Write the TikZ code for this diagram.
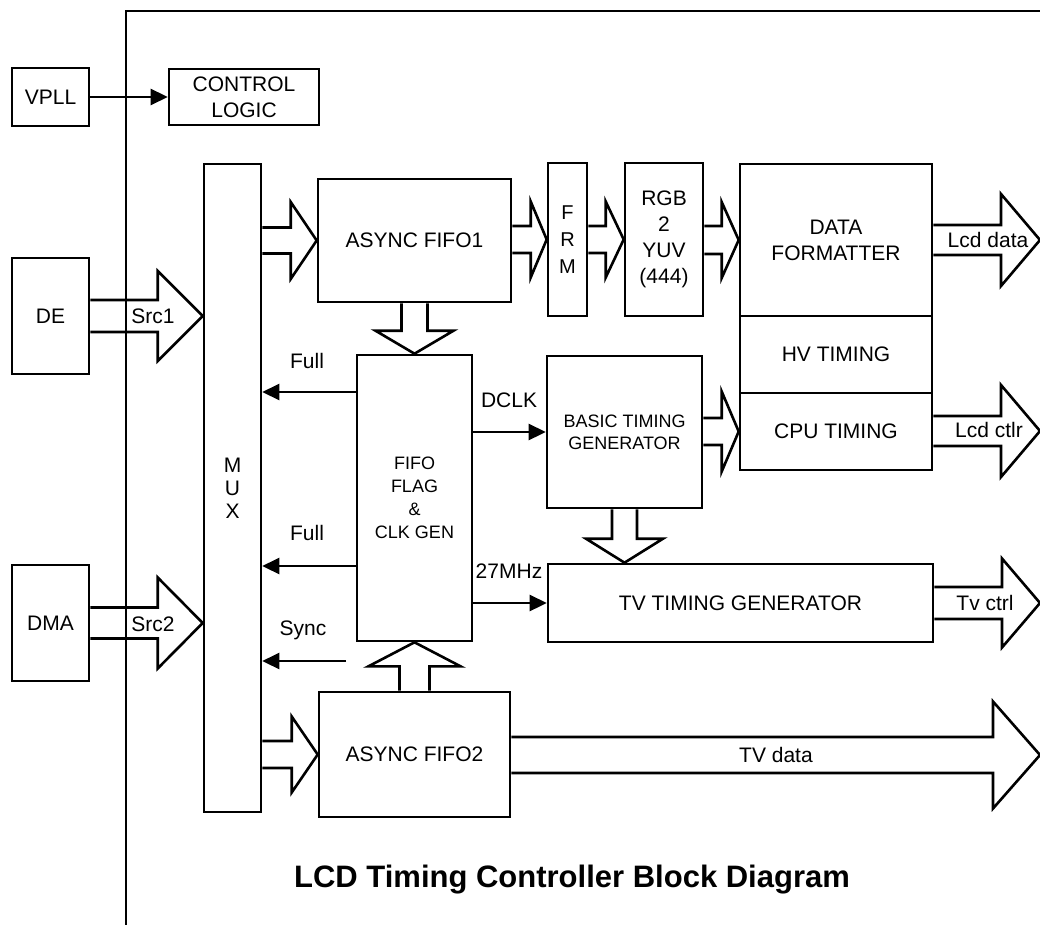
\documentclass[tikz,border=0pt]{standalone}
\usepackage{fontspec}
\setmainfont{Liberation Sans}
\usetikzlibrary{calc,arrows.meta}
\tikzset{
  blk/.style={draw, line width=2.6pt, inner sep=0pt, align=center, font=\fontsize{21}{26}\selectfont},
  fat/.style={line width=2.6pt, line join=miter},
  sig/.style={line width=2.6pt, -{Triangle[length=17pt,width=16pt]}},
  lbl/.style={font=\fontsize{21}{26}\selectfont, inner sep=0pt},
}
% horizontal fat arrow: start (x only), tip, half shaft, half head, head length
\newcommand{\fatR}[5]{\draw[fat] let \p1=(#1), \p2=(#2) in (\x1,\y2+#3) -- (\x2-#5,\y2+#3) -- (\x2-#5,\y2+#4) -- (\x2,\y2) -- (\x2-#5,\y2-#4) -- (\x2-#5,\y2-#3) -- (\x1,\y2-#3);}
% downward fat arrow
\newcommand{\fatD}[5]{\draw[fat] let \p1=(#1), \p2=(#2) in (\x2+#3,\y1) -- (\x2+#3,\y2+#5) -- (\x2+#4,\y2+#5) -- (\x2,\y2) -- (\x2-#4,\y2+#5) -- (\x2-#3,\y2+#5) -- (\x2-#3,\y1);}
% upward fat arrow
\newcommand{\fatU}[5]{\draw[fat] let \p1=(#1), \p2=(#2) in (\x2+#3,\y1) -- (\x2+#3,\y2-#5) -- (\x2+#4,\y2-#5) -- (\x2,\y2) -- (\x2-#4,\y2-#5) -- (\x2-#3,\y2-#5) -- (\x2-#3,\y1);}
\begin{document}
\begin{tikzpicture}[x=1pt,y=-1pt]
\useasboundingbox (0,0) rectangle (1040,925);
% outer frame
\draw[line width=2.2pt] (126,925) -- (126,11) -- (1040,11);

% blocks
\node[blk, minimum width=77pt, minimum height=58pt] (vpll) at (50.5,97) {VPLL};
\node[blk, minimum width=150pt, minimum height=56pt] (ctrl) at (244,97) {CONTROL\\LOGIC};
\node[blk, minimum width=77pt, minimum height=116pt] (de) at (50.5,316) {DE};
\node[blk, minimum width=77pt, minimum height=116pt] (dma) at (50.5,623) {DMA};
\node[blk, minimum width=57pt, minimum height=648pt, font=\fontsize{21}{23}\selectfont] (mux) at (232.5,488) {M\\U\\X};
\node[blk, minimum width=193pt, minimum height=123pt] (fifo1) at (414.5,240.5) {ASYNC FIFO1};
\node[blk, minimum width=39pt, minimum height=153pt, font=\fontsize{20}{27}\selectfont] (frm) at (567.5,239.5) {F\\R\\M};
\node[blk, minimum width=78pt, minimum height=153pt] (rgb) at (664,239.5) {RGB\\2\\YUV\\(444)};
\node[blk, minimum width=192pt, minimum height=152pt] (df) at (836,240) {DATA\\FORMATTER};
\node[blk, minimum width=192pt, minimum height=77pt] (hv) at (836,354.5) {HV TIMING};
\node[blk, minimum width=192pt, minimum height=77pt] (cpu) at (836,431.5) {CPU TIMING};
\node[blk, minimum width=115pt, minimum height=286pt, font=\fontsize{18}{23}\selectfont] (flag) at (414.5,498) {FIFO\\FLAG\\\&\\CLK GEN};
\node[blk, minimum width=155pt, minimum height=152pt, font=\fontsize{18}{22}\selectfont] (btg) at (624.5,432) {BASIC TIMING\\GENERATOR};
\node[blk, minimum width=385pt, minimum height=78pt] (tv) at (740.5,603) {TV TIMING GENERATOR};
\node[blk, minimum width=191pt, minimum height=125pt] (fifo2) at (414.5,754.5) {ASYNC FIFO2};

% free ends and levels
\coordinate (lcdout) at (1040,240);
\coordinate (ctlrout) at (1040,431);
\coordinate (tvcout) at (1040,603);
\coordinate (tvdout) at (1040,755);
\coordinate (yfull1) at (0,392);
\coordinate (yfull2) at (0,566);
\coordinate (syncsrc) at (346,661);

% fat arrows
\fatR{de.east}{mux.west |- de.east}{16pt}{45pt}{45pt}
\fatR{dma.east}{mux.west |- dma.east}{15.5pt}{45.5pt}{45pt}
\fatR{mux.east}{fifo1.west}{13pt}{38.5pt}{26pt}
\fatR{fifo1.east}{frm.west}{13.5pt}{38pt}{16pt}
\fatR{frm.east}{rgb.west}{13.5pt}{38pt}{18pt}
\fatR{rgb.east}{df.west}{14pt}{38pt}{17pt}
\fatR{df.east}{lcdout}{15pt}{46pt}{39pt}
\fatR{btg.east}{cpu.west}{13.5pt}{40pt}{17pt}
\fatR{cpu.east}{ctlrout}{15pt}{46pt}{39pt}
\fatR{tv.east}{tvcout}{16pt}{44.5pt}{38pt}
\fatR{fifo2.east}{tvdout}{18pt}{53.5pt}{47pt}
\fatR{mux.east}{fifo2.west}{13.5pt}{38pt}{26pt}
\fatD{fifo1.south}{flag.north}{13pt}{39pt}{23pt}
\fatD{btg.south}{btg.south |- tv.north}{12.5pt}{38.5pt}{24pt}
\fatU{fifo2.north}{flag.south}{15pt}{46pt}{24pt}

% signal arrows
\draw[sig] (vpll.east) -- (ctrl.west);
\draw[sig] (flag.west |- yfull1) -- (mux.east |- yfull1);
\draw[sig] (flag.west |- yfull2) -- (mux.east |- yfull2);
\draw[sig] (syncsrc) -- (mux.east |- syncsrc);
\draw[sig] (flag.east |- btg.west) -- (btg.west);
\draw[sig] (flag.east |- tv.west) -- (tv.west);

% labels
\node[lbl] (lsrc1) at (153,316) {Src1};
\node[lbl] (lsrc2) at (153,624) {Src2};
\node[lbl] (lfull1) at (307,361) {Full};
\node[lbl] (lfull2) at (307,533) {Full};
\node[lbl] (lsync) at (303,630) {Sync};
\node[lbl] (ldclk) at (509,400) {DCLK};
\node[lbl] (l27) at (509,571) {27MHz};
\node[lbl] (llcdd) at (988,240) {Lcd data};
\node[lbl] (llcdc) at (989,430) {Lcd ctlr};
\node[lbl] (ltvc) at (985,603) {Tv ctrl};
\node[lbl] (ltvd) at (776,755) {TV data};

\node[font=\bfseries\fontsize{31}{36}\selectfont, inner sep=0pt] (title) at (572,880) {LCD Timing Controller Block Diagram};
\end{tikzpicture}
\end{document}
